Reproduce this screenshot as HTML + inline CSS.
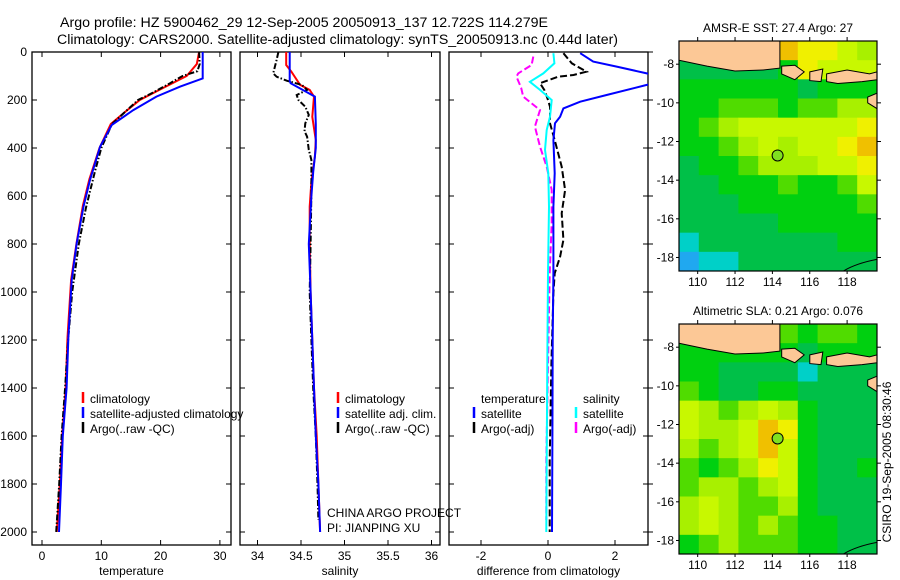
<!DOCTYPE html>
<html><head><meta charset="utf-8">
<style>
html,body{margin:0;padding:0;background:#fff;}
svg{display:block;font-family:"Liberation Sans",sans-serif;}
</style></head>
<body>
<svg id="fig" width="900" height="580" viewBox="0 0 900 580">
<text x="60" y="27" font-size="13.5" textLength="488" lengthAdjust="spacingAndGlyphs">Argo profile: HZ 5900462_29 12-Sep-2005 20050913_137 12.722S 114.279E</text>
<text x="57" y="44" font-size="13.5" textLength="561" lengthAdjust="spacingAndGlyphs">Climatology: CARS2000. Satellite-adjusted climatology: synTS_20050913.nc (0.44d later)</text>
</svg>
<script>
// ---------- data ----------
const tempDepth = [0,50,100,150,200,250,300,400,530,640,800,950,1190,1400,1600,1800,2000];
const tempClim  = [26.5,26.1,24.4,20.4,16.5,14.0,11.6,9.7,8.0,6.9,5.8,4.9,4.3,4.0,3.4,3.0,2.5];
const tempSatDepth = [0,110,144,186,242,304,394,533,644,797,950,1186,1400,1600,1800,2000];
const tempSat   = [27.1,27.1,23.3,19.3,15.4,11.75,9.8,8.1,7.0,5.85,5.0,4.45,4.15,3.5,3.2,2.87];
const argoTDepth = [0,50,80,100,130,172,200,250,300,400,500,650,800,1000,1200,1400,1600,1800,2000];
const argoTemp  = [26.5,26.6,26.2,23.7,21.6,18.5,16.2,14.0,11.8,10.0,8.9,7.4,6.2,5.1,4.4,3.9,3.3,2.9,2.4];

const salDepth = [0,54,82,137,158,186,270,367,436,540,644,800,1000,1200,1400,1600,1800,2000];
const salClim  = [34.33,34.33,34.39,34.49,34.60,34.65,34.63,34.67,34.66,34.62,34.60,34.60,34.61,34.63,34.65,34.68,34.70,34.72];
const salSatDepth = [0,120,130,186,300,400,500,600,800,1000,1200,1400,1600,1800,2000];
const salSat   = [34.37,34.37,34.38,34.66,34.67,34.67,34.64,34.62,34.59,34.61,34.63,34.65,34.67,34.70,34.72];
const argoSDepth = [0,33,61,89,103,120,137,158,179,200,228,262,297,330,353,408,450,575,800,1000,1200,1400,1600,1800,1950];
const argoSal  = [34.24,34.22,34.20,34.18,34.22,34.34,34.51,34.57,34.45,34.47,34.55,34.59,34.55,34.54,34.57,34.59,34.62,34.62,34.61,34.60,34.62,34.64,34.67,34.69,34.70];

const dTSatDepth = [5,40,61,89,110,137,179,207,235,270,297,367,505,644,922,1200,1600,2000];
const dTSat    = [0.96,1.35,2.05,2.95,3.6,2.95,1.75,0.96,0.46,0.36,0.21,0.16,0.2,0.16,0.16,0.14,0.13,0.12];
const dSSatDepth = [5,47,89,124,158,200,270,325,408,505,644,922,1300,1700,2000];
const dSSat    = [0.16,0.19,-0.14,-0.54,-0.24,0.11,0.06,-0.04,-0.09,0.01,0.03,0.0,-0.02,-0.04,-0.05];
const dTArgoDepth = [5,47,82,96,103,130,160,200,228,297,367,478,575,672,783,853,922,1005,1300,1700,2000];
const dTArgo   = [0.46,0.71,1.15,0.76,0.3,-0.24,-0.1,0.0,0.06,0.06,0.2,0.41,0.51,0.41,0.46,0.36,0.2,0.16,0.1,0.05,0.05];
const dSArgoDepth = [19,54,89,103,150,186,242,311,394,478,575,714,922,1300,1700,1950];
const dSArgo   = [-0.44,-0.49,-0.89,-0.94,-0.8,-0.74,-0.24,-0.39,-0.24,-0.04,0.11,0.11,0.05,0.0,-0.05,-0.05];

const depthTicks = [0,200,400,600,800,1000,1200,1400,1600,1800,2000];
const tempTicks = [0,10,20,30];
const salTicks = [34,34.5,35,35.5,36];
const salTickLabels = ["34","34.5","35","35.5","36"];
const diffTicks = [-2,0,2];
const diffTickLabels = ["-2","0","2"];

// map grids (0..9 colour index), rows from north to south, 10 columns west->east
const sstGrid = [
 [3,3,3,3,3,8,7,7,6,5],
 [2,2,2,2,2,3,7,6,6,6],
 [3,3,3,3,3,3,2,3,3,3],
 [3,3,4,4,4,3,4,4,5,5],
 [3,4,5,6,6,6,6,6,6,7],
 [3,3,4,5,6,5,6,6,7,8],
 [2,3,3,4,5,5,5,6,6,7],
 [2,2,3,3,3,4,3,3,4,6],
 [2,2,2,3,3,3,3,3,3,4],
 [2,2,2,2,2,3,3,3,3,3],
 [1,2,2,2,2,2,2,2,3,3],
 [0,1,1,2,2,2,2,2,2,2]];
const slaGrid = [
 [3,3,3,3,3,4,3,4,4,3],
 [3,3,3,3,3,3,2,3,3,3],
 [3,3,2,2,2,2,1,2,2,2],
 [4,3,2,2,3,3,2,2,2,2],
 [6,5,4,5,6,5,3,2,2,2],
 [6,5,5,6,8,7,3,2,2,2],
 [5,4,5,6,8,6,3,2,2,2],
 [4,3,4,5,7,6,3,2,2,3],
 [4,5,5,4,5,6,3,2,2,2],
 [5,6,5,4,4,5,3,2,2,2],
 [5,6,5,4,5,4,3,3,2,2],
 [3,4,5,4,4,4,3,3,2,2]];
const mapLonTicks = [110,112,114,116,118];
const mapLatTicks = [-8,-10,-12,-14,-16,-18];
const floatLon = 114.279, floatLat = -12.722;

// ---------- helpers ----------
const NS="http://www.w3.org/2000/svg";
const svg=document.getElementById('fig');
function mk(tag,attrs,parent){const e=document.createElementNS(NS,tag);for(const k in attrs)e.setAttribute(k,attrs[k]);(parent||svg).appendChild(e);return e;}

const yTop=52, yScale=0.24, yBot=545;
const yD=d=>yTop+d*yScale;
const panels=[
 {x0:32,x1:231,v0:-1.69,v1:31.87,f:v=>42+(v)*5.93},
 {x0:240,x1:440,v0:33.79,v1:36.1,f:v=>257.5+(v-34)*87},
 {x0:449,x1:648,v0:-2.99,v1:2.99,f:v=>548+v*33.5}
];
function frame(p,name){
  const g=mk('g',{});
  
  
  mk('rect',{x:p.x0,y:yTop,width:p.x1-p.x0,height:yBot-yTop,fill:'none',stroke:'#000','stroke-width':1.3},g);
  depthTicks.forEach(d=>{
    mk('line',{x1:p.x0,x2:p.x0+5,y1:yD(d),y2:yD(d),stroke:'#000'},g);
    mk('line',{x1:p.x1,x2:p.x1-5,y1:yD(d),y2:yD(d),stroke:'#000'},g);
  });
  return g;
}
function series(p,vals,depths,color,dash,name){
  const clipId='clip'+name;
  const cp=mk('clipPath',{id:clipId});
  mk('rect',{x:p.x0,y:yTop,width:p.x1-p.x0,height:yBot-yTop},cp);
  const pts=vals.map((v,i)=>p.f(v).toFixed(1)+','+yD(depths[i]).toFixed(1)).join(' ');
  const l=mk('polyline',{points:pts,fill:'none',stroke:color,'stroke-width':2,'clip-path':'url(#'+clipId+')'});
  if(dash)l.setAttribute('stroke-dasharray',dash);
  
  
}
function xTicks(p,ticks,labels,title,tname){
  ticks.forEach((t,i)=>{
    const x=p.f(t);
    mk('line',{x1:x,x2:x,y1:yBot,y2:yBot-5,stroke:'#000'});
    mk('line',{x1:x,x2:x,y1:yTop,y2:yTop+5,stroke:'#000'});
    const tx=mk('text',{x:x,y:yBot+15,'font-size':12,'text-anchor':'middle'});
    tx.textContent=labels[i];
    
    
  });
  const tt=mk('text',{x:(p.x0+p.x1)/2,y:575,'font-size':12,'text-anchor':'middle'});
  tt.textContent=title;
  
  
}
function legendEntry(x,y,color,label,name){
  const g=mk('g',{});
  
  
  if(color)mk('line',{x1:x,x2:x,y1:y-11,y2:y,stroke:color,'stroke-width':2.5},g);
  const t=mk('text',{x:x+7,y:y,'font-size':12},g);
  t.textContent=label;
}

// ---------- panel 1: temperature ----------
frame(panels[0],'temperature-panel');
depthTicks.forEach(d=>{
  const t=mk('text',{x:27,y:yD(d)+4,'font-size':12,'text-anchor':'end'});
  t.textContent=d;
  
  
});
xTicks(panels[0],tempTicks,tempTicks.map(String),'temperature','x-axis-title-temperature');
series(panels[0],tempClim,tempDepth,'#f00',null,'temp-climatology-line');
series(panels[0],argoTemp,argoTDepth,'#000','6,2,1.5,2','temp-argo-line');
series(panels[0],tempSat,tempSatDepth,'#00f',null,'temp-satellite-line');
legendEntry(83,403,'#f00','climatology','legend-climatology');
legendEntry(83,418,'#00f','satellite-adjusted climatology','legend-satellite-adjusted');
legendEntry(83,433,'#000','Argo(..raw -QC)','legend-argo');

// ---------- panel 2: salinity ----------
frame(panels[1],'salinity-panel');
xTicks(panels[1],salTicks,salTickLabels,'salinity','x-axis-title-salinity');
series(panels[1],salClim,salDepth,'#f00',null,'sal-climatology-line');
series(panels[1],argoSal,argoSDepth,'#000','6,2,1.5,2','sal-argo-line');
series(panels[1],salSat,salSatDepth,'#00f',null,'sal-satellite-line');
legendEntry(338,403,'#f00','climatology','legend-sal-climatology');
legendEntry(338,418,'#00f','satellite adj. clim.','legend-sal-satellite');
legendEntry(338,433,'#000','Argo(..raw -QC)','legend-sal-argo');
(function(){
  const t1=mk('text',{x:327,y:517,'font-size':12});t1.textContent='CHINA ARGO PROJECT';
  
  const t2=mk('text',{x:327,y:532,'font-size':12});t2.textContent='PI: JIANPING XU';
  
})();

// ---------- panel 3: difference ----------
const f3=frame(panels[2],'difference-panel');
depthTicks.forEach(d=>{mk('line',{x1:648,x2:653,y1:yD(d),y2:yD(d),stroke:'#000'});});
xTicks(panels[2],diffTicks,diffTickLabels,'difference from climatology','x-axis-title-difference');
series(panels[2],dTArgo,dTArgoDepth,'#000','7,3','diff-temp-argo-line');
series(panels[2],dSArgo,dSArgoDepth,'#f0f','7,3','diff-sal-argo-line');
series(panels[2],dSSat,dSSatDepth,'#0ff',null,'diff-sal-satellite-line');
series(panels[2],dTSat,dTSatDepth,'#00f',null,'diff-temp-satellite-line');
legendEntry(474,403,null,'temperature','legend-diff-temperature-header');
legendEntry(474,418,'#00f','satellite','legend-diff-temp-satellite');
legendEntry(474,433,'#000','Argo(-adj)','legend-diff-temp-argo');
legendEntry(576,403,null,'salinity','legend-diff-salinity-header');
legendEntry(576,418,'#0ff','satellite','legend-diff-sal-satellite');
legendEntry(576,433,'#f0f','Argo(-adj)','legend-diff-sal-argo');

// ---------- maps ----------
const palette=['#20a8f0','#00d0c8','#00c048','#00d010','#50dc00','#a8f000','#c8f800','#f0f000','#f0c000','#f0a000'];
const lon0=109.0, lon1=119.6, lat0=-6.8, lat1=-18.7;
function drawMap(top,grid,title,name){
  const L=679,R=877,B=top+230;
  const lx=lo=>L+(lo-lon0)/(lon1-lon0)*(R-L);
  const ly=la=>top+(la-lat0)/(lat1-lat0)*(B-top);
  const g=mk('g',{});
  
  
  const cp=mk('clipPath',{id:'c'+name});mk('rect',{x:L,y:top,width:R-L,height:B-top},cp);
  const cells=mk('g',{'clip-path':'url(#c'+name+')'},g);
  const nr=grid.length,nc=grid[0].length;
  const cw=(R-L)/nc, ch=(B-top)/nr;
  grid.forEach((row,r)=>row.forEach((v,c)=>{
    const rc=mk('rect',{x:L+c*cw,y:top+r*ch,width:cw+0.6,height:ch+0.6,fill:palette[v]},cells);
    
    
  }));
  // land
  const land=[
    [[109,-6.8],[114.4,-6.8],[114.4,-8.2],[113.5,-8.3],[112,-8.35],[110.5,-8.1],[109,-7.8]],
    [[114.5,-8.1],[115.2,-8.05],[115.7,-8.4],[115.2,-8.8],[114.5,-8.5]],
    [[116,-8.4],[116.7,-8.25],[116.6,-8.9],[116,-8.85]],
    [[116.9,-8.5],[118,-8.3],[119.2,-8.5],[119.6,-8.4],[119.6,-8.8],[118.8,-8.9],[117.5,-9.0],[116.9,-8.9]],
    [[119.1,-9.7],[119.6,-9.5],[119.6,-10.3],[119.1,-10.0]]
  ];
  land.forEach(poly=>{
    const p=mk('polygon',{points:poly.map(q=>lx(q[0]).toFixed(1)+','+ly(q[1]).toFixed(1)).join(' '),fill:'#fcc896',stroke:'#000','stroke-width':1},cells);
    
    
  });
  mk('path',{d:`M${lx(117.8)},${ly(-18.7)} Q${lx(118.5)},${ly(-18.3)} ${lx(119.6)},${ly(-18.1)}`,fill:'none',stroke:'#000'},cells);
  const c=mk('circle',{cx:lx(floatLon),cy:ly(floatLat),r:5.5,fill:'#80e020',stroke:'#000','stroke-width':1},g);
  
  
  mk('rect',{x:L,y:top,width:R-L,height:B-top,fill:'none',stroke:'#000','stroke-width':1.2},g);
  mapLatTicks.forEach(la=>{
    mk('line',{x1:R,x2:R+4,y1:ly(la),y2:ly(la),stroke:'#000'},g);
    mk('line',{x1:L,x2:L-3,y1:ly(la),y2:ly(la),stroke:'#000'},g);
    const t=mk('text',{x:674,y:ly(la)+4,'font-size':12,'text-anchor':'end'},g);
    t.textContent=la;
  });
  mapLonTicks.forEach(lo=>{
    mk('line',{x1:lx(lo),x2:lx(lo),y1:top,y2:top-4,stroke:'#000'},g);
    mk('line',{x1:lx(lo),x2:lx(lo),y1:B,y2:B+3,stroke:'#000'},g);
    const t=mk('text',{x:lx(lo),y:B+15,'font-size':12,'text-anchor':'middle'},g);
    t.textContent=lo;
  });
  const tt=mk('text',{x:(L+R)/2,y:top-9,'font-size':12,'text-anchor':'middle'},g);
  tt.textContent=title;
  
  
}
drawMap(41,sstGrid,'AMSR-E SST: 27.4 Argo: 27','sst-map');
drawMap(324,slaGrid,'Altimetric SLA: 0.21 Argo: 0.076','sla-map');
(function(){
  const t=mk('text',{x:0,y:0,'font-size':12,'text-anchor':'middle',transform:'translate(891,462) rotate(-90)'});
  t.textContent='CSIRO 19-Sep-2005 08:30:46';
  
  
})();
</script>
</body></html>
